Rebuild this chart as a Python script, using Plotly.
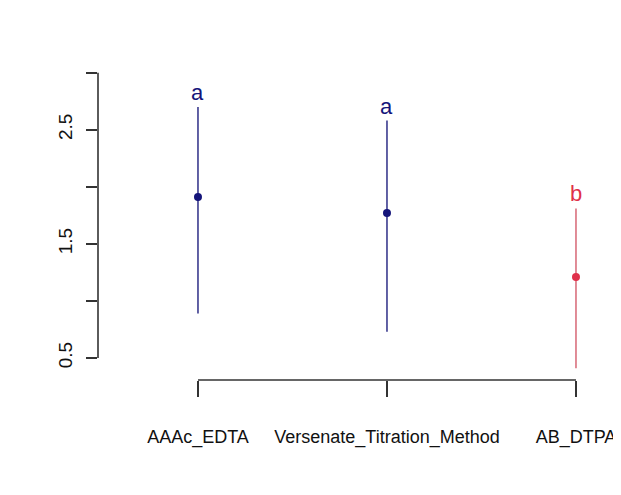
import plotly.graph_objects as go

methods = ["AAAc_EDTA", "Versenate_Titration_Method", "AB_DTPA"]
means = [1.91, 1.77, 1.21]
upper = [2.70, 2.58, 1.81]
lower = [0.89, 0.73, 0.41]
letters = ["a", "a", "b"]
dot_colors = ["#14147a", "#14147a", "#e0304a"]
line_colors = ["#3a3a8e", "#3a3a8e", "#d9707e"]
y_label_vals = [0.5, 1.5, 2.5]
y_label_text = ["0.5", "1.5", "2.5"]
y_minor_vals = [1.0, 2.0, 3.0]

xs = [1, 2, 3]
fig = go.Figure()
for i in range(len(methods)):
    fig.add_trace(go.Scatter(
        x=[xs[i]], y=[means[i]], mode="markers",
        marker=dict(size=8, color=dot_colors[i]),
        error_y=dict(type="data", symmetric=False,
                     array=[upper[i] - means[i]],
                     arrayminus=[means[i] - lower[i]],
                     color=line_colors[i], thickness=1.6, width=0),
        showlegend=False))
    fig.add_annotation(x=xs[i], y=upper[i], text=letters[i], showarrow=False,
                       yanchor="bottom", yshift=0,
                       font=dict(size=22, color=dot_colors[i],
                                 family="Liberation Sans, Arial"))

axis_col = "#333333"
all_y = y_label_vals + y_minor_vals
fig.add_shape(type="line", xref="paper", yref="y", x0=0, x1=0,
              y0=min(all_y), y1=max(all_y), line=dict(color=axis_col, width=1.6))
fig.add_shape(type="line", xref="x", yref="paper", x0=min(xs), x1=max(xs),
              y0=0, y1=0, line=dict(color=axis_col, width=1.6))

fig.update_layout(
    width=613, height=479,
    margin=dict(l=90, r=11, t=22, b=107),
    paper_bgcolor="white", plot_bgcolor="white",
    font=dict(family="Liberation Sans, Arial", size=18, color="#111111"),
    xaxis=dict(range=[0.471, 3.18], tickvals=xs, ticktext=methods,
               ticks="outside", ticklen=16, tickwidth=1.6, tickcolor=axis_col,
               showline=False, showgrid=False, zeroline=False, automargin=False,
               ticklabelstandoff=24, tickfont=dict(size=18)),
    yaxis=dict(range=[0.307, 3.374], tickvals=y_label_vals, ticktext=y_label_text,
               ticks="outside", ticklen=11, tickwidth=1.6, tickcolor=axis_col,
               tickangle=-90, showline=False, showgrid=False, zeroline=False,
               automargin=False,
               ticklabelstandoff=6, tickfont=dict(size=19),
               minor=dict(tickvals=y_minor_vals, ticks="outside", ticklen=11,
                          tickwidth=1.6, tickcolor=axis_col)),
)
fig.write_html("out.html")
